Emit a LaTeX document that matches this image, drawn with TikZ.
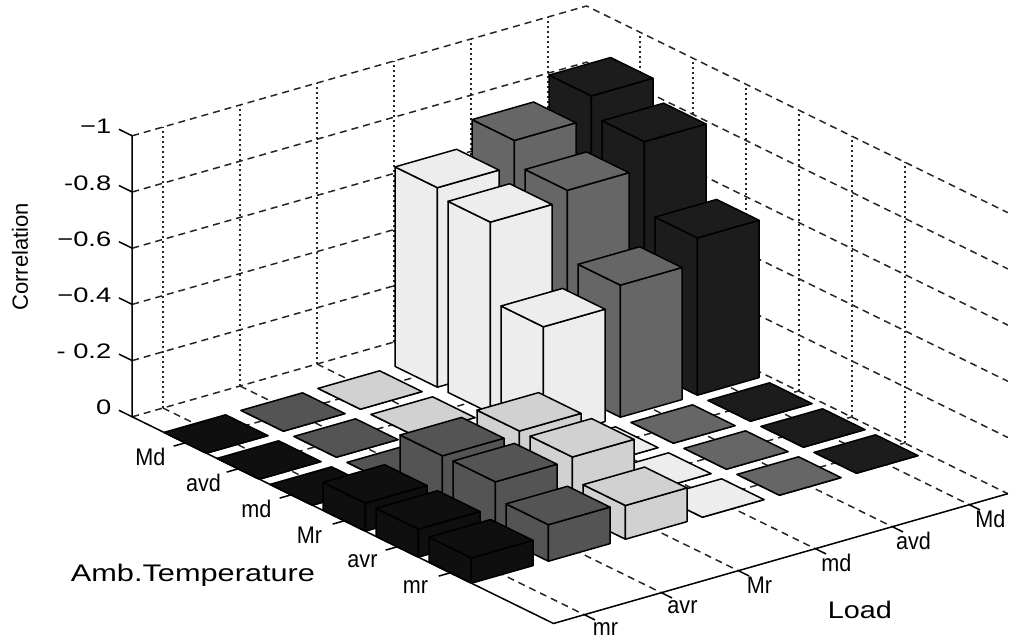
\documentclass[tikz,border=0pt]{standalone}
\usepackage{fontspec}
\setmainfont{Liberation Sans}
\usepackage{tikz}

\definecolor{col1}{gray}{0.06}
\definecolor{col2}{gray}{0.33}
\definecolor{col3}{gray}{0.82}
\definecolor{col4}{gray}{0.93}
\definecolor{col5}{gray}{0.40}
\definecolor{col6}{gray}{0.11}

\newcommand{\stretchx}[2]{\scalebox{#1}[1]{#2}}

\begin{document}
\begin{tikzpicture}[x={(26.5pt,-13pt)},y={(38.5pt,11pt)},z={(0pt,140.5pt)},
    grid line/.style={black!85,line width=0.75pt,dash pattern=on 3.5pt off 2.5pt},
    grid post/.style={black!85,line width=1pt,dash pattern=on 1.2pt off 1.3pt},
    axis line/.style={black,line width=0.75pt},
    bar face/.style={draw=black,line width=0.75pt,line join=round},
    tick label/.style={font=\fontsize{12}{14}\selectfont,inner sep=1pt},
    z label/.style={font=\fontsize{10.5}{12}\selectfont,inner sep=1pt,anchor=east},
    axis label/.style={font=\fontsize{12}{14}\selectfont}]

  \useasboundingbox (-43pt,215pt) rectangle (472.5pt,-104pt);

  % corners of the axes box
  \coordinate (L) at (0,0.6,0);
  \coordinate (F) at (7.95,0.6,0);
  \coordinate (R) at (7.95,6.5,0);
  \coordinate (B) at (0,6.5,0);
  \coordinate (Ltop) at (0,0.6,1);

  % back walls and floor grid
  \foreach \k in {0,...,5}
    \draw[grid line] (0,0.6,\k/5) -- (0,6.5,\k/5) -- (7.95,6.5,\k/5);
  \foreach \j in {1,...,6}
    \draw[grid post] (0,\j,0) -- (0,\j,1);
  \foreach \i in {1,...,6}
    \draw[grid post] (\i,6.5,0) -- (\i,6.5,1);
  \foreach \j in {1,...,6}
    \draw[grid line] (0,\j,0) -- (7.95,\j,0);
  \foreach \i in {1,...,6}
    \draw[grid line] (\i,0.6,0) -- (\i,6.5,0);

  % bars, back to front
  \foreach \a/\b/\h in {1/6/0.88,1/5/0.80,1/4/0.71,1/3/0,1/2/0,1/1/0,
                        2/6/0.81,2/5/0.715,2/4/0.68,2/3/0,2/2/0,2/1/0,
                        3/6/0.56,3/5/0.47,3/4/0.40,3/3/0,3/2/0,3/1/0,
                        4/6/0,4/5/0,4/4/0,4/3/0.20,4/2/0.19,4/1/0.10,
                        5/6/0,5/5/0,5/4/0,5/3/0.20,5/2/0.19,5/1/0.10,
                        6/6/0,6/5/0,6/4/0,6/3/0.12,6/2/0.13,6/1/0.09}{
    \filldraw[bar face,fill=col\b] (\a-0.4,\b-0.4,0) -- (\a+0.4,\b-0.4,0)
      -- (\a+0.4,\b-0.4,\h) -- (\a-0.4,\b-0.4,\h) -- cycle;
    \filldraw[bar face,fill=col\b] (\a+0.4,\b-0.4,0) -- (\a+0.4,\b+0.4,0)
      -- (\a+0.4,\b+0.4,\h) -- (\a+0.4,\b-0.4,\h) -- cycle;
    \filldraw[bar face,fill=col\b] (\a-0.4,\b-0.4,\h) -- (\a+0.4,\b-0.4,\h)
      -- (\a+0.4,\b+0.4,\h) -- (\a-0.4,\b+0.4,\h) -- cycle;
  }

  % axes
  \draw[axis line] (Ltop) -- (L) -- (F) -- (R);
  \foreach \k in {0,...,5}
    \draw[axis line] (0,0.6,\k/5) -- (-0.25,0.6,\k/5);
  \foreach \i in {1,...,6}
    \draw[axis line] (\i,0.6,0) -- (\i,0.45,0);
  \foreach \j in {1,...,6}
    \draw[axis line] (7.95,\j,0) -- (8.15,\j,0);

  % tick labels
  \foreach \k/\t in {0/0,1/- 0.2,2/−0.4,3/−0.6,4/-0.8,5/−1}
    \node[z label] (ztick\k) at (-0.35,0.6,\k/5) {\stretchx{1.3}{\t}};
  \foreach \i/\t in {1/Md,2/avd,3/md,4/Mr,5/avr,6/mr}
    \node[tick label] (amb\i) at (\i+0.1,0.08,0) {\stretchx{0.9}{\t}};
  \foreach \j/\t in {1/mr,2/avr,3/Mr,4/md,5/avd,6/Md}
    \node[tick label] (load\j) at (8.45,\j-0.07,0) {\stretchx{0.9}{\t}};

  % axis titles
  \node[axis label] (ambtitle) at (4.27,-1.55,0) {\stretchx{1.28}{Amb.Temperature}};
  \node[axis label] (loadtitle) at (9.75,3.34,0) {\stretchx{1.2}{Load}};
  \node[axis label,font=\fontsize{11}{13}\selectfont,rotate=90] (zlabel)
    at (-0.91,-0.23,0.55) {Correlation};
\end{tikzpicture}
\end{document}
